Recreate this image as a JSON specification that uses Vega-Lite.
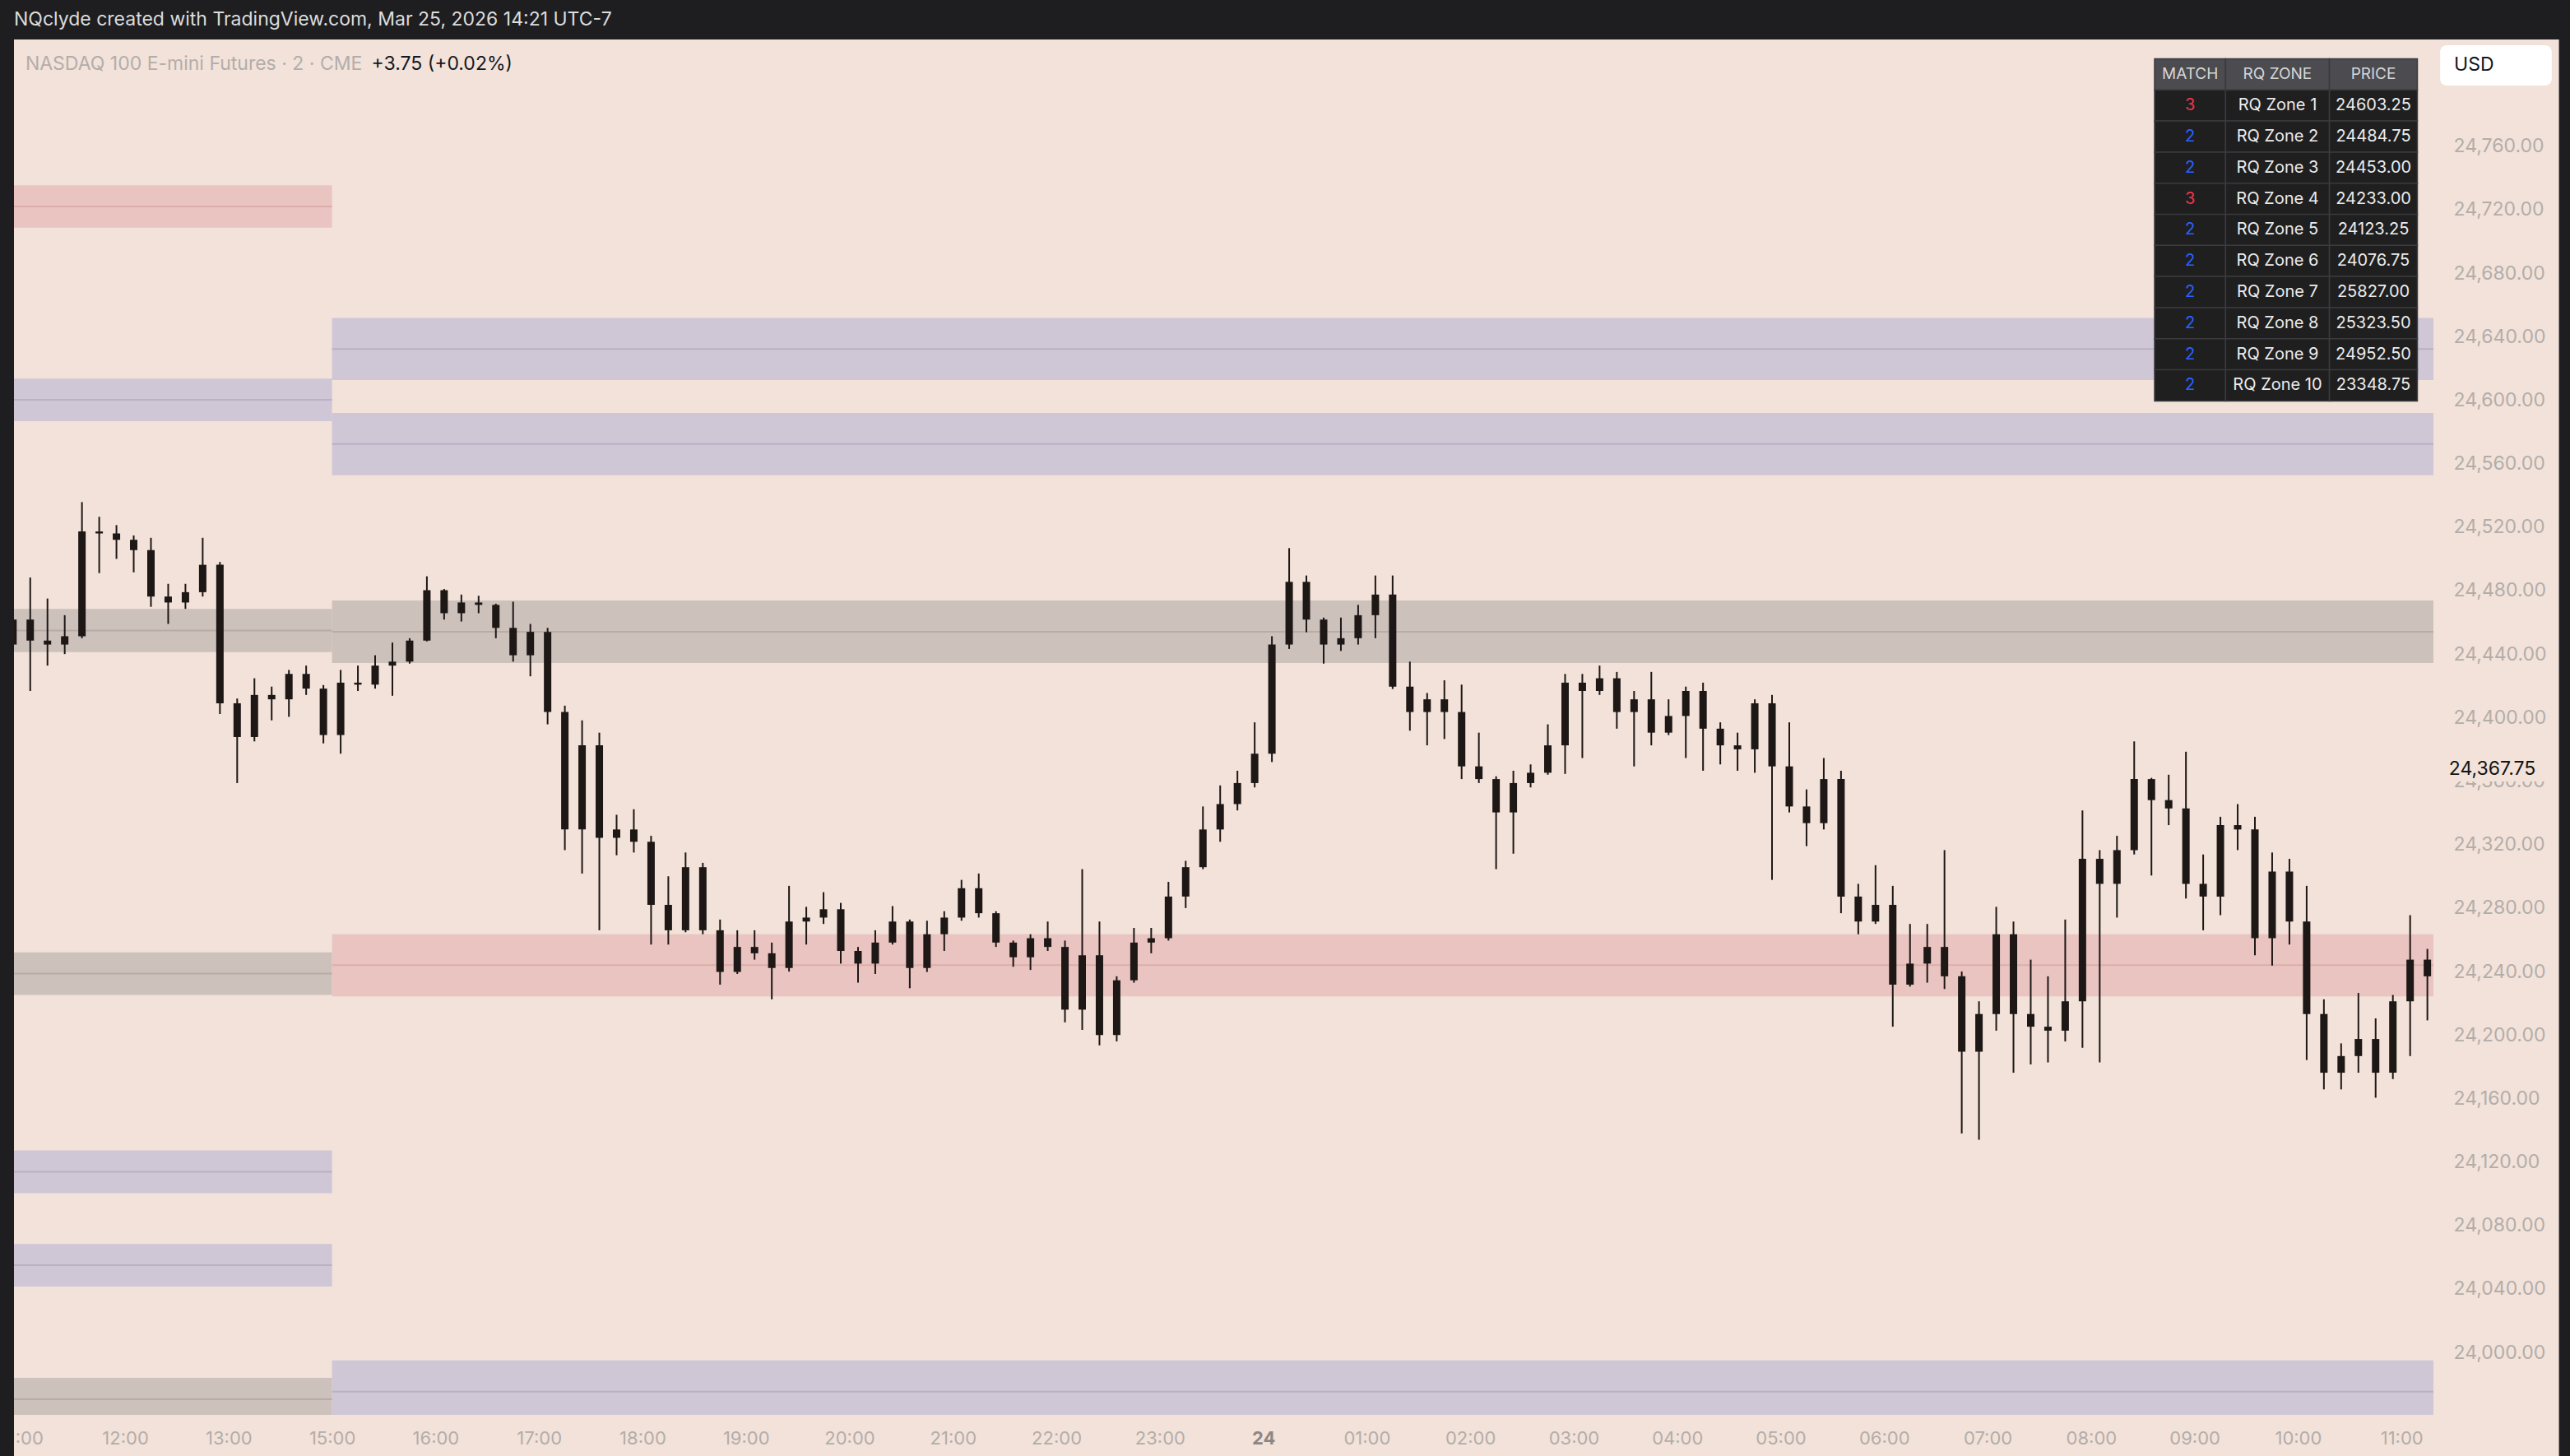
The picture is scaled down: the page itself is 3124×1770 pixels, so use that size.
{
"$schema":"https://vega.github.io/schema/vega-lite/v6.json",
"width":2956,"height":1672,
"autosize":{"type":"none"},
"padding":{"left":12,"top":48,"right":156,"bottom":50},
"background":"#f2e2d9",
"config":{"view":{"stroke":null},"font":"Inter"},
"datasets":{
"zones":[
{"kind":"red","x0":-10,"x1":180,"lo":24708.6,"hi":24735.4,"mid":24722.0},
{"kind":"purple","x0":-10,"x1":180,"lo":24586.7,"hi":24613.6,"mid":24600.2},
{"kind":"gray","x0":-10,"x1":180,"lo":24441.2,"hi":24468.4,"mid":24454.8},
{"kind":"gray","x0":-10,"x1":180,"lo":24225.2,"hi":24252.1,"mid":24238.7},
{"kind":"purple","x0":-10,"x1":180,"lo":24100.4,"hi":24127.3,"mid":24113.9},
{"kind":"purple","x0":-10,"x1":180,"lo":24041.5,"hi":24068.4,"mid":24055.0},
{"kind":"gray","x0":-10,"x1":180,"lo":23957.0,"hi":23984.0,"mid":23970.5},
{"kind":"purple","x0":180,"x1":1398.5,"lo":24612.6,"hi":24651.8,"mid":24632.2},
{"kind":"purple","x0":180,"x1":1398.5,"lo":24552.6,"hi":24591.9,"mid":24572.3},
{"kind":"gray","x0":180,"x1":1398.5,"lo":24434.4,"hi":24473.8,"mid":24454.1},
{"kind":"red","x0":180,"x1":1398.5,"lo":24224.4,"hi":24263.5,"mid":24244.0},
{"kind":"purple","x0":180,"x1":1398.5,"lo":23955.6,"hi":23995.0,"mid":23975.3}
],
"table":[
{"r":0,"match":"MATCH","zone":"RQ ZONE","price":"PRICE"},
{"r":1,"match":"3","zone":"RQ Zone 1","price":"24603.25"},
{"r":2,"match":"2","zone":"RQ Zone 2","price":"24484.75"},
{"r":3,"match":"2","zone":"RQ Zone 3","price":"24453.00"},
{"r":4,"match":"3","zone":"RQ Zone 4","price":"24233.00"},
{"r":5,"match":"2","zone":"RQ Zone 5","price":"24123.25"},
{"r":6,"match":"2","zone":"RQ Zone 6","price":"24076.75"},
{"r":7,"match":"2","zone":"RQ Zone 7","price":"25827.00"},
{"r":8,"match":"2","zone":"RQ Zone 8","price":"25323.50"},
{"r":9,"match":"2","zone":"RQ Zone 9","price":"24952.50"},
{"r":10,"match":"2","zone":"RQ Zone 10","price":"23348.75"}
],
"candles":[
{"m":-5,"o":24446,"h":24462,"l":24443.25,"c":24461.75},
{"m":5,"o":24461.75,"h":24488.25,"l":24416.75,"c":24448.5},
{"m":15,"o":24448.5,"h":24475,"l":24432.75,"c":24446},
{"m":25,"o":24446,"h":24464.5,"l":24440,"c":24451.25},
{"m":35,"o":24451.25,"h":24535.75,"l":24450,"c":24517.25},
{"m":45,"o":24517.25,"h":24526.5,"l":24491,"c":24516},
{"m":55,"o":24516,"h":24521.25,"l":24500,"c":24512},
{"m":65,"o":24512,"h":24514.75,"l":24491.5,"c":24505.5},
{"m":75,"o":24505.5,"h":24513.25,"l":24469.75,"c":24476.25},
{"m":85,"o":24476.25,"h":24484.25,"l":24459,"c":24472.5},
{"m":95,"o":24472.5,"h":24484.25,"l":24468.5,"c":24479},
{"m":105,"o":24479,"h":24513.25,"l":24476.25,"c":24496.25},
{"m":115,"o":24496.25,"h":24498,"l":24402.25,"c":24409},
{"m":125,"o":24409,"h":24412,"l":24358.75,"c":24387.75},
{"m":135,"o":24387.75,"h":24424.75,"l":24385,"c":24414.25},
{"m":145,"o":24414.25,"h":24419.5,"l":24398.25,"c":24411.5},
{"m":155,"o":24411.5,"h":24430,"l":24400.5,"c":24427.5},
{"m":165,"o":24427.5,"h":24432.75,"l":24414.25,"c":24418.25},
{"m":175,"o":24418.25,"h":24420.5,"l":24383.75,"c":24389},
{"m":185,"o":24389,"h":24430,"l":24377.25,"c":24422},
{"m":195,"o":24422,"h":24432.75,"l":24416.75,"c":24420.75},
{"m":205,"o":24420.75,"h":24439.25,"l":24418.25,"c":24432.75},
{"m":215,"o":24432.75,"h":24447.25,"l":24413.75,"c":24435.25},
{"m":225,"o":24435.25,"h":24450,"l":24434,"c":24448.5},
{"m":235,"o":24448.5,"h":24489,"l":24448,"c":24480.25},
{"m":245,"o":24480.25,"h":24481,"l":24461.75,"c":24465.75},
{"m":255,"o":24465.75,"h":24477.5,"l":24460.5,"c":24472.5},
{"m":265,"o":24472.5,"h":24476.75,"l":24465.75,"c":24471},
{"m":275,"o":24471,"h":24471.75,"l":24450,"c":24456.5},
{"m":285,"o":24456.5,"h":24473,"l":24435.25,"c":24439.25},
{"m":295,"o":24439.25,"h":24459,"l":24426,"c":24454},
{"m":305,"o":24454,"h":24456.5,"l":24395.75,"c":24403.5},
{"m":315,"o":24403.5,"h":24407.5,"l":24316.5,"c":24329.5},
{"m":325,"o":24329.5,"h":24398.25,"l":24301.75,"c":24382.5},
{"m":335,"o":24382.5,"h":24390.5,"l":24266,"c":24324.25},
{"m":345,"o":24324.25,"h":24338.75,"l":24313.25,"c":24329.5},
{"m":355,"o":24329.5,"h":24342.25,"l":24315,"c":24321.75},
{"m":365,"o":24321.75,"h":24325.5,"l":24257,"c":24282},
{"m":375,"o":24282,"h":24300,"l":24257,"c":24266},
{"m":385,"o":24266,"h":24315,"l":24264.75,"c":24305.75},
{"m":395,"o":24305.75,"h":24308.5,"l":24263.5,"c":24266},
{"m":405,"o":24266,"h":24272.75,"l":24231.75,"c":24239.75},
{"m":415,"o":24239.75,"h":24266,"l":24238.5,"c":24255.5},
{"m":425,"o":24255.5,"h":24266,"l":24247.5,"c":24251.5},
{"m":435,"o":24251.5,"h":24258.25,"l":24222.5,"c":24242.25},
{"m":445,"o":24242.25,"h":24294,"l":24240,"c":24271.5},
{"m":455,"o":24271.5,"h":24280.75,"l":24257,"c":24274},
{"m":465,"o":24274,"h":24290,"l":24270,"c":24279.25},
{"m":475,"o":24279.25,"h":24283.25,"l":24245,"c":24253},
{"m":485,"o":24253,"h":24255.5,"l":24233,"c":24245},
{"m":495,"o":24245,"h":24266,"l":24238.5,"c":24258.25},
{"m":505,"o":24258.25,"h":24281.25,"l":24257,"c":24271.5},
{"m":515,"o":24271.5,"h":24272.75,"l":24229.5,"c":24242.25},
{"m":525,"o":24242.25,"h":24272,"l":24239.75,"c":24263.5},
{"m":535,"o":24263.5,"h":24278,"l":24253,"c":24274},
{"m":545,"o":24274,"h":24297.75,"l":24272,"c":24292.5},
{"m":555,"o":24292.5,"h":24301.75,"l":24274,"c":24276.75},
{"m":565,"o":24276.75,"h":24278,"l":24255.5,"c":24258.25},
{"m":575,"o":24258.25,"h":24259.5,"l":24243,"c":24249},
{"m":585,"o":24249,"h":24263.5,"l":24241,"c":24261},
{"m":595,"o":24261,"h":24271.5,"l":24253,"c":24255.5},
{"m":605,"o":24255.5,"h":24259.5,"l":24208,"c":24216},
{"m":615,"o":24216,"h":24304.5,"l":24203.25,"c":24250.25},
{"m":625,"o":24250.25,"h":24271.5,"l":24193.5,"c":24200},
{"m":635,"o":24200,"h":24237,"l":24196,"c":24234.5},
{"m":645,"o":24234.5,"h":24267.5,"l":24233,"c":24258.25},
{"m":655,"o":24258.25,"h":24267.5,"l":24251.5,"c":24261},
{"m":665,"o":24261,"h":24296.5,"l":24259.5,"c":24287.25},
{"m":675,"o":24287.25,"h":24309.75,"l":24280,"c":24305.75},
{"m":685,"o":24305.75,"h":24344,"l":24304.5,"c":24329.5},
{"m":695,"o":24329.5,"h":24357.25,"l":24321.75,"c":24345.5},
{"m":705,"o":24345.5,"h":24366.5,"l":24341.5,"c":24358.75},
{"m":715,"o":24358.75,"h":24397,"l":24356,"c":24377.25},
{"m":725,"o":24377.25,"h":24451.25,"l":24372,"c":24446},
{"m":735,"o":24446,"h":24506.75,"l":24443.25,"c":24485.5},
{"m":745,"o":24485.5,"h":24489.5,"l":24453.75,"c":24461.75},
{"m":755,"o":24461.75,"h":24463,"l":24434,"c":24446},
{"m":765,"o":24446,"h":24463,"l":24442,"c":24450},
{"m":775,"o":24450,"h":24471,"l":24446,"c":24464.5},
{"m":785,"o":24464.5,"h":24489.5,"l":24450,"c":24477.5},
{"m":795,"o":24477.5,"h":24489.5,"l":24418,"c":24419.5},
{"m":805,"o":24419.5,"h":24435.25,"l":24391.75,"c":24403.5},
{"m":815,"o":24403.5,"h":24415.5,"l":24382.5,"c":24411.5},
{"m":825,"o":24411.5,"h":24423.5,"l":24386.5,"c":24403.5},
{"m":835,"o":24403.5,"h":24420.75,"l":24361.25,"c":24369.25},
{"m":845,"o":24369.25,"h":24390.5,"l":24358.75,"c":24361.25},
{"m":855,"o":24361.25,"h":24363,"l":24304.5,"c":24340.25},
{"m":865,"o":24340.25,"h":24366.5,"l":24314.25,"c":24358.75},
{"m":875,"o":24358.75,"h":24370.5,"l":24356,"c":24365.25},
{"m":885,"o":24365.25,"h":24395.75,"l":24364,"c":24382.5},
{"m":895,"o":24382.5,"h":24427.5,"l":24364.5,"c":24422},
{"m":905,"o":24422,"h":24427.5,"l":24374.5,"c":24416.75},
{"m":915,"o":24416.75,"h":24432.75,"l":24414.25,"c":24424.75},
{"m":925,"o":24424.75,"h":24428.75,"l":24393,"c":24403.5},
{"m":935,"o":24403.5,"h":24416.75,"l":24369.25,"c":24411.5},
{"m":945,"o":24411.5,"h":24428.75,"l":24382.5,"c":24390.5},
{"m":955,"o":24390.5,"h":24411.5,"l":24389,"c":24401},
{"m":965,"o":24401,"h":24419.5,"l":24374.5,"c":24416.75},
{"m":975,"o":24416.75,"h":24422,"l":24366.5,"c":24393},
{"m":985,"o":24393,"h":24397,"l":24370.5,"c":24382.5},
{"m":995,"o":24382.5,"h":24390.5,"l":24366.5,"c":24380},
{"m":1005,"o":24380,"h":24411.5,"l":24365.25,"c":24409},
{"m":1015,"o":24409,"h":24414.25,"l":24297.75,"c":24369.25},
{"m":1025,"o":24369.25,"h":24397,"l":24340.25,"c":24344},
{"m":1035,"o":24344,"h":24354.75,"l":24319,"c":24333.5},
{"m":1045,"o":24333.5,"h":24374.5,"l":24329.5,"c":24361.25},
{"m":1055,"o":24361.25,"h":24366.5,"l":24276.75,"c":24287.25},
{"m":1065,"o":24287.25,"h":24295.25,"l":24263.5,"c":24271.5},
{"m":1075,"o":24271.5,"h":24307,"l":24270,"c":24282},
{"m":1085,"o":24282,"h":24294,"l":24205.25,"c":24231.75},
{"m":1095,"o":24231.75,"h":24270,"l":24230.5,"c":24245},
{"m":1105,"o":24245,"h":24270,"l":24233,"c":24255.5},
{"m":1115,"o":24255.5,"h":24316.5,"l":24229,"c":24237},
{"m":1125,"o":24237,"h":24240,"l":24138,"c":24189.5},
{"m":1135,"o":24189.5,"h":24221.25,"l":24134,"c":24213.25},
{"m":1145,"o":24213.25,"h":24280.75,"l":24202.75,"c":24263.5},
{"m":1155,"o":24263.5,"h":24271.5,"l":24176.25,"c":24213.25},
{"m":1165,"o":24213.25,"h":24247.5,"l":24181.5,"c":24205.25},
{"m":1175,"o":24205.25,"h":24237,"l":24182.75,"c":24202.75},
{"m":1185,"o":24202.75,"h":24272.75,"l":24196,"c":24221.25},
{"m":1195,"o":24221.25,"h":24341.5,"l":24192,"c":24311},
{"m":1205,"o":24311,"h":24316.5,"l":24182.75,"c":24295.25},
{"m":1215,"o":24295.25,"h":24325.5,"l":24274,"c":24316.5},
{"m":1225,"o":24316.5,"h":24385,"l":24313.75,"c":24361.25},
{"m":1235,"o":24361.25,"h":24362,"l":24300.5,"c":24348},
{"m":1245,"o":24348,"h":24364,"l":24332.25,"c":24342.75},
{"m":1255,"o":24342.75,"h":24378.5,"l":24286,"c":24295.25},
{"m":1265,"o":24295.25,"h":24313.75,"l":24266,"c":24287.25},
{"m":1275,"o":24287.25,"h":24337.5,"l":24275.5,"c":24332.25},
{"m":1285,"o":24332.25,"h":24345.5,"l":24316.5,"c":24329.5},
{"m":1295,"o":24329.5,"h":24337.5,"l":24250.25,"c":24261},
{"m":1305,"o":24261,"h":24315,"l":24243.75,"c":24303},
{"m":1315,"o":24303,"h":24311,"l":24257,"c":24271.5},
{"m":1325,"o":24271.5,"h":24294,"l":24184.25,"c":24213.25},
{"m":1335,"o":24213.25,"h":24222.5,"l":24165.75,"c":24176.25},
{"m":1345,"o":24176.25,"h":24194.75,"l":24165.75,"c":24186.75},
{"m":1355,"o":24186.75,"h":24226.5,"l":24176.25,"c":24197.5},
{"m":1365,"o":24197.5,"h":24210.5,"l":24160.5,"c":24176.25},
{"m":1375,"o":24176.25,"h":24225.25,"l":24172.25,"c":24221.25},
{"m":1385,"o":24221.25,"h":24275.5,"l":24186.75,"c":24247.5},
{"m":1395,"o":24247.5,"h":24254.25,"l":24209.25,"c":24237}
]
},
"layer":[
{"layer":[
{"data":{"name":"zones"},"mark":{"type":"rect","clip":true},
"encoding":{
"x":{"field":"x0","type":"quantitative","scale":{"domain":[-4.42,1400.9],"nice":false,"zero":false},
"axis":{"title":null,"values":[0,60,120,180,240,300,360,420,480,540,600,660,720,780,840,900,960,1020,1080,1140,1200,1260,1320,1380],
"labelExpr":"['11:00','12:00','13:00','15:00','16:00','17:00','18:00','19:00','20:00','21:00','22:00','23:00','24','01:00','02:00','03:00','04:00','05:00','06:00','07:00','08:00','09:00','10:00','11:00'][round(datum.value/60)]",
"ticks":false,"tickSize":0,"domain":false,"grid":false,"labelFontSize":22,"labelFont":"Inter","labelColor":{"condition":{"test":"datum.value==720","value":"#8d8784"},"value":"#b3adaa"},"labelFontWeight":{"condition":{"test":"datum.value==720","value":"bold"},"value":"normal"},"labelPadding":28,"labelBaseline":"middle","labelFlush":false,"labelOverlap":false}},
"x2":{"field":"x1"},
"y":{"field":"lo","type":"quantitative","scale":{"domain":[23960.7,24827.2],"nice":false,"zero":false},
"axis":{"title":null,"orient":"right","values":[24000,24040,24080,24120,24160,24200,24240,24280,24320,24360,24400,24440,24480,24520,24560,24600,24640,24680,24720,24760],
"format":",.2f","ticks":false,"tickSize":0,"domain":false,"grid":false,"labelFontSize":23,"labelFont":"Inter","labelColor":"#b3adaa","labelPadding":14,"labelAlign":"left","labelBaseline":"middle","labelOverlap":false}},
"y2":{"field":"hi"},
"fill":{"field":"kind","type":"nominal","scale":{"domain":["red","purple","gray"],"range":["#e9c4c0","#cfc7d6","#cdc1bc"]},"legend":null}}},
{"data":{"name":"zones"},"mark":{"type":"rule","clip":true,"strokeWidth":2},
"encoding":{"x":{"field":"x0","type":"quantitative"},"x2":{"field":"x1"},"y":{"field":"mid","type":"quantitative"},
"stroke":{"field":"kind","type":"nominal","scale":{"domain":["red","purple","gray"],"range":["#dcaeaa","#b9b1c4","#b9aca7"]},"legend":null}}},
{"data":{"name":"candles"},"mark":{"type":"rule","clip":true,"strokeWidth":2,"color":"#1d1715"},
"encoding":{"x":{"field":"m","type":"quantitative"},"y":{"field":"l","type":"quantitative"},"y2":{"field":"h"}}},
{"data":{"name":"candles"},"mark":{"type":"bar","clip":true,"width":9,"color":"#1d1715"},
"encoding":{"x":{"field":"m","type":"quantitative"},"y":{"field":"o","type":"quantitative"},"y2":{"field":"c"}}},
{"data":{"values":[{}]},"mark":{"type":"rect","color":"#1e1e21"},
"encoding":{"x":{"datum":-20},"x2":{"datum":1500},"y":{"datum":24827.2},"y2":{"datum":24900}}},
{"data":{"values":[{}]},"mark":{"type":"rect","color":"#1e1e21"},
"encoding":{"x":{"datum":-20},"x2":{"datum":-4.42},"y":{"datum":23880},"y2":{"datum":24900}}},
{"data":{"values":[{}]},"mark":{"type":"rect","color":"#1e1e21"},
"encoding":{"x":{"datum":1471.3},"x2":{"datum":1500},"y":{"datum":23880},"y2":{"datum":24900}}},
{"data":{"values":[{}]},"mark":{"type":"text","align":"left","baseline":"middle","fontSize":23,"font":"Inter","color":"#dcdcdc","text":"NQclyde created with TradingView.com, Mar 25, 2026 14:21 UTC-7"},
"encoding":{"x":{"datum":-4.42},"y":{"datum":24839.6}}},
{"data":{"values":[{}]},"mark":{"type":"text","align":"left","baseline":"middle","fontSize":23,"font":"Inter","color":"#b3adab","text":"NASDAQ 100 E-mini Futures · 2 · CME"},
"encoding":{"x":{"datum":2.2},"y":{"datum":24811.8}}},
{"data":{"values":[{}]},"mark":{"type":"text","align":"left","baseline":"middle","fontSize":23,"font":"Inter","color":"#131722","text":"+3.75 (+0.02%)"},
"encoding":{"x":{"datum":202.9},"y":{"datum":24811.8}}},
{"data":{"values":[{}]},"mark":{"type":"rect","color":"#f2e2d9"},
"encoding":{"x":{"datum":1404},"x2":{"datum":1468},"y":{"datum":24359.8},"y2":{"datum":24375.3}}},
{"data":{"values":[{"price":24367.75}]},"mark":{"type":"text","align":"left","baseline":"middle","fontSize":23,"font":"Inter","color":"#131313"},
"encoding":{"x":{"datum":1407.5},"y":{"field":"price","type":"quantitative"},"text":{"field":"price","type":"quantitative","format":",.2f"}}},
{"data":{"values":[{}]},"mark":{"type":"rect","color":"#ffffff","cornerRadius":8},
"encoding":{"x":{"datum":1402.4},"x2":{"datum":1467.1},"y":{"datum":24798.2},"y2":{"datum":24823.6}}},
{"data":{"values":[{}]},"mark":{"type":"text","align":"left","baseline":"middle","fontSize":23,"font":"Inter","color":"#131722","text":"USD"},
"encoding":{"x":{"datum":1410.5},"y":{"datum":24810.9}}}
]},
{"layer":[
{"data":{"name":"table"},"mark":{"type":"bar","height":38,"stroke":"#3b3b3e","strokeWidth":1.5},
"encoding":{"x":{"datum":1236.8},"x2":{"datum":1278.0},
"y":{"field":"r","type":"quantitative","scale":{"domain":[-0.9913,42.975],"reverse":true,"nice":false,"zero":false},"axis":null},
"fill":{"condition":{"test":"datum.r===0","value":"#4b4b50"},"value":"#1f1f20"}}},
{"data":{"name":"table"},"mark":{"type":"bar","height":38,"stroke":"#3b3b3e","strokeWidth":1.5},
"encoding":{"x":{"datum":1278.0},"x2":{"datum":1338.2},"y":{"field":"r","type":"quantitative","axis":null},
"fill":{"condition":{"test":"datum.r===0","value":"#4b4b50"},"value":"#1f1f20"}}},
{"data":{"name":"table"},"mark":{"type":"bar","height":38,"stroke":"#3b3b3e","strokeWidth":1.5},
"encoding":{"x":{"datum":1338.2},"x2":{"datum":1389.2},"y":{"field":"r","type":"quantitative","axis":null},
"fill":{"condition":{"test":"datum.r===0","value":"#4b4b50"},"value":"#1f1f20"}}},
{"data":{"name":"table"},"mark":{"type":"text","align":"center","baseline":"middle","font":"Inter"},
"encoding":{"x":{"datum":1257.4},"y":{"field":"r","type":"quantitative","axis":null},"text":{"field":"match"},
"size":{"condition":{"test":"datum.r===0","value":19},"value":20},
"color":{"condition":[{"test":"datum.r===0","value":"#d6d6d6"},{"test":"datum.match==='3'","value":"#f23645"}],"value":"#2962ff"}}},
{"data":{"name":"table"},"mark":{"type":"text","align":"center","baseline":"middle","font":"Inter"},
"encoding":{"x":{"datum":1308.1},"y":{"field":"r","type":"quantitative","axis":null},"text":{"field":"zone"},
"size":{"condition":{"test":"datum.r===0","value":19},"value":20},
"color":{"condition":{"test":"datum.r===0","value":"#d6d6d6"},"value":"#ececec"}}},
{"data":{"name":"table"},"mark":{"type":"text","align":"center","baseline":"middle","font":"Inter"},
"encoding":{"x":{"datum":1363.7},"y":{"field":"r","type":"quantitative","axis":null},"text":{"field":"price"},
"size":{"condition":{"test":"datum.r===0","value":19},"value":20},
"color":{"condition":{"test":"datum.r===0","value":"#d6d6d6"},"value":"#ececec"}}}
]}
],
"resolve":{"scale":{"y":"independent"}}
}
